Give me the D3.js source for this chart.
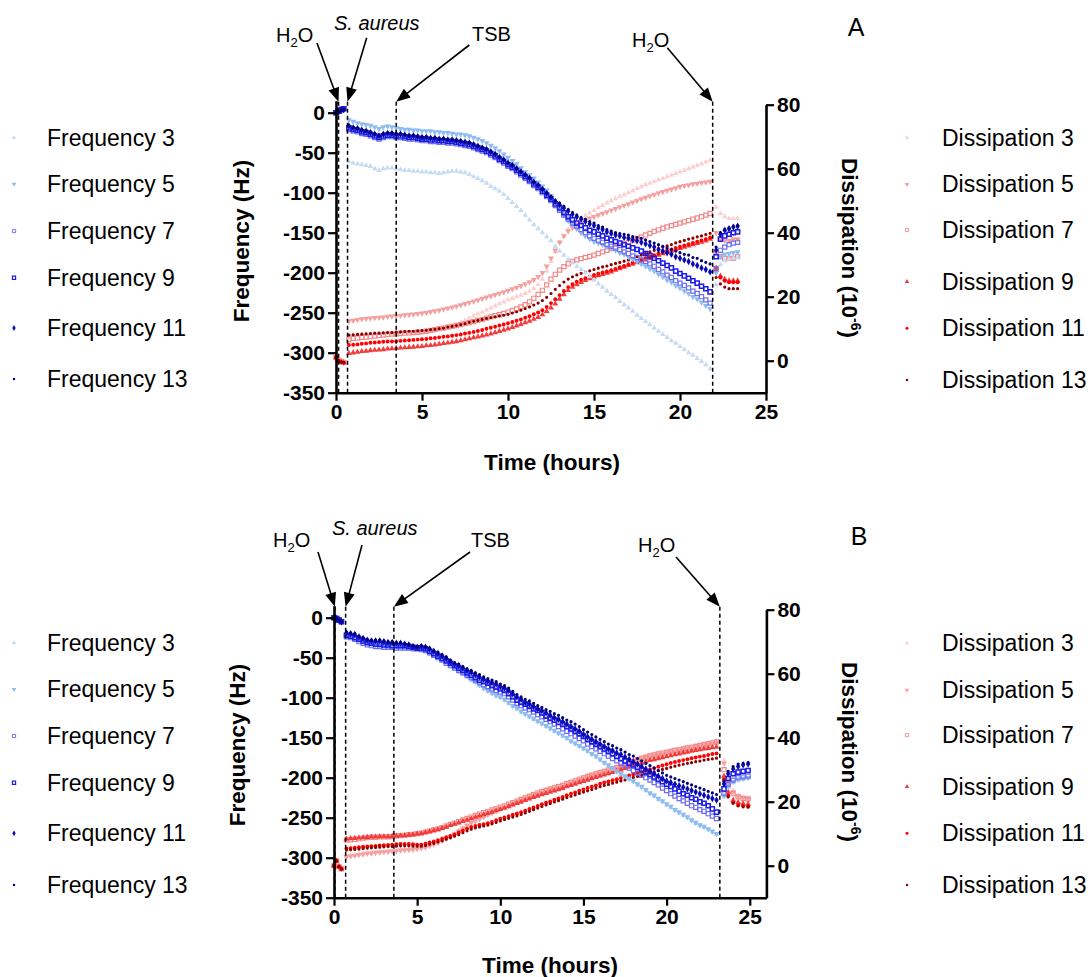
<!DOCTYPE html>
<html><head><meta charset="utf-8">
<script src="https://cdn.jsdelivr.net/npm/d3@7"></script>
<style>body{margin:0;background:#fff} svg{display:block}</style>
</head><body><svg id="chart" width="1092" height="977"></svg>
<script>
// ---------- DATA ----------
const freqTicks = [-350,-300,-250,-200,-150,-100,-50,0];
const dissTicks = [0,20,40,60,80];
const timeTicks = [0,5,10,15,20,25];
const freqNames = ["Frequency 3","Frequency 5","Frequency 7","Frequency 9","Frequency 11","Frequency 13"];
const dissNames = ["Dissipation 3","Dissipation 5","Dissipation 7","Dissipation 9","Dissipation 11","Dissipation 13"];
const eventLabels = ["H2O","S. aureus","TSB","H2O"];
const eventsA = [0.15, 0.67, 3.5, 21.9];
const eventsB = [0.05, 0.7, 3.6, 23.2];

// Panel A time (hours)
const tA_start = [0,0.15,0.3,0.45];
const tA_main = [0.75,1,1.25,1.5,1.75,2,2.25,2.5,2.75,3,3.25,3.5,3.75,4,4.25,4.5,4.75,5,5.25,5.5,5.75,6,6.25,6.5,6.75,7,7.25,7.5,7.75,8,8.25,8.5,8.75,9,9.25,9.5,9.75,10,10.25,10.5,10.75,11,11.25,11.5,11.75,12,12.25,12.5,12.75,13,13.25,13.5,13.75,14,14.25,14.5,14.75,15,15.25,15.5,15.75,16,16.25,16.5,16.75,17,17.25,17.5,17.75,18,18.25,18.5,18.75,19,19.25,19.5,19.75,20,20.25,20.5,20.75,21,21.25,21.5,21.75];
const tA_end = [22.1,22.35,22.6,22.85,23.1,23.35];

const freqA3 = [0,1,2,4,
-61,-63,-64,-65,-66,-67,-70,-72,-70,-69,
-69,-70,-71,-72,-72,-73,-73,-74,-74,-75,
-75,-76,-75,-74,-73,-73,-74,-75,-77,-80,
-82,-85,-88,-92,-95,-98,-102,-107,-112,-117,
-122,-128,-134,-140,-145,-150,-155,-160,-167,-173,
-178,-183,-187,-192,-196,-200,-205,-209,-214,-218,
-223,-227,-231,-236,-240,-244,-248,-253,-257,-261,
-265,-269,-273,-277,-281,-285,-288,-292,-296,-300,
-303,-307,-311,-315,-320,
-215,-190,-185,-183,-182,-181];
const freqA5 = [0,1,2,4,
-9,-11,-13,-14,-15,-16,-18,-20,-18,-17,
-18,-19,-20,-21,-21,-22,-22,-23,-23,-23,
-24,-24,-25,-25,-26,-27,-27,-28,-29,-31,
-33,-35,-38,-41,-44,-48,-52,-56,-60,-64,
-69,-74,-78,-82,-87,-92,-97,-104,-113,-121,
-128,-135,-140,-145,-150,-154,-158,-161,-163,-165,
-168,-170,-172,-175,-177,-180,-183,-186,-189,-192,
-195,-198,-202,-205,-209,-212,-216,-219,-223,-226,
-230,-233,-237,-241,-245,
-200,-180,-177,-176,-175,-174];
const freqA7 = [0,2,4,5,
-21,-23,-24,-26,-27,-29,-31,-33,-31,-30,
-30,-31,-31,-32,-33,-33,-34,-35,-35,-36,
-36,-37,-37,-38,-38,-39,-40,-41,-42,-44,
-46,-48,-50,-53,-56,-60,-63,-67,-70,-74,
-78,-82,-86,-91,-95,-100,-105,-110,-116,-122,
-128,-133,-138,-142,-146,-150,-154,-157,-160,-162,
-165,-167,-169,-171,-174,-176,-179,-181,-184,-186,
-189,-192,-196,-199,-203,-206,-210,-213,-216,-219,
-223,-226,-230,-234,-238,
-195,-172,-168,-165,-163,-162];
const freqA9 = [0,2,4,5,
-19,-21,-22,-24,-25,-27,-29,-31,-29,-28,
-28,-29,-29,-30,-31,-31,-32,-33,-33,-34,
-34,-35,-35,-36,-36,-37,-38,-39,-40,-42,
-44,-46,-48,-51,-54,-58,-61,-65,-68,-72,
-76,-80,-84,-89,-93,-98,-103,-108,-114,-119,
-125,-130,-134,-138,-141,-144,-147,-149,-152,-154,
-157,-159,-161,-163,-165,-167,-169,-171,-173,-176,
-179,-182,-185,-188,-191,-194,-198,-201,-204,-207,
-210,-213,-217,-220,-224,
-180,-158,-154,-152,-150,-149];
const freqA11 = [0,1,3,4,
-17,-19,-20,-22,-23,-25,-27,-29,-27,-26,
-26,-27,-27,-28,-29,-29,-30,-31,-31,-32,
-32,-33,-33,-34,-34,-35,-36,-37,-38,-40,
-42,-44,-46,-49,-52,-56,-59,-63,-66,-70,
-74,-78,-82,-87,-91,-96,-101,-106,-111,-115,
-119,-123,-127,-130,-133,-136,-139,-141,-144,-146,
-149,-151,-153,-154,-156,-157,-159,-160,-162,-164,
-166,-168,-171,-173,-175,-177,-180,-182,-184,-186,
-189,-191,-194,-196,-199,
-172,-152,-147,-145,-143,-142];
const freqA13 = [0,1,3,4,
-16,-18,-19,-21,-22,-24,-26,-28,-26,-25,
-25,-26,-26,-27,-28,-28,-29,-30,-30,-31,
-31,-32,-32,-33,-33,-34,-35,-36,-37,-39,
-41,-43,-45,-48,-51,-55,-58,-62,-65,-69,
-73,-77,-81,-86,-90,-95,-100,-105,-110,-113,
-117,-121,-125,-128,-131,-133,-136,-138,-141,-143,
-146,-148,-150,-151,-152,-153,-155,-156,-157,-159,
-161,-163,-165,-167,-169,-171,-173,-175,-177,-178,
-181,-182,-185,-187,-189,
-168,-150,-146,-144,-142,-141];

const dissA3 = [1,0,-0.4,-0.6,
8,8,8.1,8.2,8.3,8.4,8.4,8.5,8.5,8.6,
8.6,8.7,8.7,8.8,8.8,8.8,8.8,8.9,9.1,9.3,
9.5,9.8,10.1,10.5,10.9,11.3,12,12.6,13.3,14,
14.6,15.2,15.9,16.5,17.1,17.8,18.4,19,19.5,20,
20.5,21,21.7,22.5,23.8,25.5,28,31,34,37,
39,41,42.3,43.5,44.4,45.3,46.2,47,47.8,48.5,
49.3,50,50.6,51.3,51.9,52.5,53.1,53.8,54.4,55,
55.5,56,56.5,57,57.5,58,58.5,59,59.5,60,
60.5,61,61.5,62.1,62.7,
48,46,45,44.5,44.5,44.5];
const dissA5 = [1,0,-0.4,-0.6,
12.4,12.6,12.8,13,13.2,13.3,13.4,13.5,13.6,13.8,
13.9,14,14.1,14.3,14.4,14.5,14.7,14.8,15,15.3,
15.5,15.8,16.1,16.4,16.7,17,17.4,17.8,18.2,18.6,
19,19.4,19.8,20.2,20.6,21,21.5,21.9,22.4,22.9,
23.4,24,24.6,25.3,26.2,27.5,29.5,32,34.5,37,
39,40.5,41.6,42.6,43.3,43.9,44.5,45,45.5,46,
46.5,47,47.5,48,48.5,49,49.5,50,50.5,51,
51.5,51.9,52.4,52.8,53.2,53.6,54,54.4,54.7,54.9,
55.2,55.4,55.6,55.8,56,
40,38,37.5,37.5,38,38];
const dissA7 = [1,0.2,-0.3,-0.5,
6.5,7,7.1,7.3,7.4,7.5,7.7,7.9,8,8.2,
8.3,8.4,8.5,8.6,8.7,8.8,8.9,9,9.2,9.5,
9.7,10,10.2,10.5,10.7,11,11.3,11.6,11.9,12.2,
12.6,12.9,13.3,13.7,14.1,14.4,14.8,15.2,15.7,16.2,
16.8,17.5,18.4,19.5,20.7,22,23.7,25.5,27,28.3,
29.4,30.3,31,31.5,31.9,32.3,32.6,33,33.5,34,
34.5,35,35.5,36,36.5,37,37.6,38.2,38.7,39.3,
39.8,40.4,40.9,41.4,41.8,42.2,42.6,43,43.4,43.8,
44.2,44.6,45,45.5,46,
34,32.5,32,32,32,32.5];
const dissA9 = [1,0,-0.4,-0.6,
2.3,2.5,2.7,2.9,3,3.2,3.3,3.4,3.5,3.7,
3.8,3.9,4,4.1,4.2,4.3,4.4,4.5,4.7,4.8,
5,5.2,5.4,5.6,5.8,6,6.3,6.6,6.9,7.2,
7.5,7.8,8.1,8.4,8.8,9.2,9.6,10,10.4,10.9,
11.4,11.9,12.4,13,13.6,14.4,15.4,16.5,17.8,19.3,
20.7,22,23,23.8,24.5,25.1,25.7,26.2,26.6,27,
27.4,27.8,28.3,28.8,29.3,29.8,30.2,30.7,31.1,31.5,
32,32.5,33,33.5,33.9,34.3,34.7,35.1,35.5,35.9,
36.3,36.7,37.1,37.5,38,
29,26.5,25.5,25,25,25];
const dissA11 = [1,0,-0.4,-0.6,
4.9,5,5.1,5.3,5.4,5.6,5.7,5.8,5.9,6,
6,6.1,6.2,6.3,6.4,6.5,6.6,6.7,6.8,7,
7.1,7.3,7.5,7.6,7.8,8,8.2,8.5,8.7,9,
9.3,9.6,10,10.3,10.6,11,11.3,11.7,12.1,12.5,
12.9,13.4,13.9,14.5,15.1,15.8,16.8,18,19.2,20.5,
21.8,23,23.9,24.7,25.3,25.8,26.3,26.8,27.2,27.6,
27.9,28.3,28.7,29.2,29.6,30.1,30.6,31,31.5,32,
32.5,33,33.5,34,34.4,34.8,35.2,35.6,36,36.4,
36.8,37.2,37.6,38,38.5,
28,26,25,24.5,24.5,24.5];
const dissA13 = [1,0,-0.4,-0.6,
8,8.1,8.2,8.3,8.4,8.5,8.6,8.6,8.7,8.8,
8.8,8.9,9,9.1,9.2,9.2,9.3,9.4,9.5,9.7,
9.8,10,10.2,10.5,10.7,11,11.3,11.6,12,12.3,
12.6,12.9,13.2,13.5,13.7,14,14.2,14.5,14.9,15.3,
15.8,16.3,16.8,17.4,18,18.8,19.8,21,22.3,23.5,
24.6,25.5,26.2,26.8,27.3,27.7,28.1,28.5,28.9,29.3,
29.6,30,30.4,30.7,31.1,31.5,32,32.5,33,33.5,
34,34.5,35,35.5,35.9,36.3,36.8,37.2,37.6,38,
38.3,38.7,39,39.4,39.8,
26,24,23,22.5,22.5,22.5];

// Panel B time (hours)
const tB_start = [0,0.15,0.3,0.45];
const tB_main = [0.75,1,1.25,1.5,1.75,2,2.25,2.5,2.75,3,3.25,3.5,3.75,4,4.25,4.5,4.75,5,5.25,5.5,5.75,6,6.25,6.5,6.75,7,7.25,7.5,7.75,8,8.25,8.5,8.75,9,9.25,9.5,9.75,10,10.25,10.5,10.75,11,11.25,11.5,11.75,12,12.25,12.5,12.75,13,13.25,13.5,13.75,14,14.25,14.5,14.75,15,15.25,15.5,15.75,16,16.25,16.5,16.75,17,17.25,17.5,17.75,18,18.25,18.5,18.75,19,19.25,19.5,19.75,20,20.25,20.5,20.75,21,21.25,21.5,21.75,22,22.25,22.5,22.75,23];
const tB_end = [23.45,23.7,24,24.3,24.6,24.9];

const freqB3 = [0,-1,-3,-5,
-22,-24,-26,-28,-30,-32,-33,-34,-35,-35,
-36,-36,-37,-37,-37,-38,-38,-39,-40,-41,
-44,-47,-50,-53,-56,-60,-63,-67,-70,-74,
-78,-81,-85,-89,-92,-95,-98,-100,-103,-107,
-111,-114,-118,-121,-124,-127,-130,-133,-136,-139,
-142,-145,-148,-151,-155,-158,-161,-164,-167,-171,
-174,-178,-182,-185,-189,-193,-196,-199,-202,-205,
-209,-212,-216,-220,-223,-227,-230,-234,-237,-241,
-244,-247,-250,-254,-257,-260,-262,-265,-268,-271,
-224,-212,-206,-203,-202,-201];
const freqB5 = [0,-1,-3,-5,
-22,-24,-26,-28,-30,-32,-33,-34,-35,-35,
-36,-36,-36,-37,-37,-37,-38,-38,-39,-40,
-43,-46,-49,-52,-55,-59,-62,-66,-69,-73,
-77,-80,-84,-88,-91,-94,-97,-99,-102,-106,
-110,-113,-117,-120,-123,-126,-129,-132,-135,-138,
-141,-144,-147,-150,-154,-157,-160,-163,-166,-170,
-173,-177,-181,-184,-188,-192,-195,-198,-201,-204,
-208,-211,-215,-219,-222,-226,-229,-233,-236,-240,
-243,-246,-249,-253,-256,-259,-261,-264,-267,-270,
-222,-210,-205,-202,-201,-200];
const freqB7 = [0,-1,-3,-5,
-24,-25,-27,-30,-32,-34,-35,-36,-36,-37,
-37,-37,-38,-38,-38,-38,-39,-39,-40,-41,
-44,-47,-50,-53,-57,-60,-63,-66,-69,-72,
-75,-78,-81,-84,-86,-89,-91,-93,-95,-99,
-103,-107,-110,-113,-115,-118,-121,-124,-127,-130,
-133,-136,-139,-142,-145,-148,-151,-154,-158,-161,
-164,-167,-170,-173,-176,-179,-182,-185,-188,-191,
-194,-197,-200,-203,-206,-209,-213,-216,-220,-223,
-226,-229,-232,-235,-237,-240,-242,-245,-248,-251,
-220,-208,-203,-200,-199,-198];
const freqB9 = [0,-1,-3,-5,
-22,-23,-25,-27,-29,-31,-32,-33,-33,-34,
-34,-35,-35,-35,-35,-36,-37,-38,-38,-39,
-42,-45,-48,-51,-54,-57,-60,-63,-66,-69,
-72,-75,-78,-80,-82,-85,-87,-89,-91,-95,
-99,-103,-106,-108,-111,-114,-116,-119,-123,-126,
-128,-131,-133,-136,-139,-142,-145,-148,-152,-155,
-158,-161,-164,-167,-170,-173,-176,-179,-182,-184,
-187,-190,-193,-196,-199,-202,-205,-208,-211,-214,
-217,-220,-222,-225,-227,-230,-232,-235,-239,-243,
-214,-201,-195,-193,-192,-191];
const freqB11 = [0,-1,-3,-5,
-19,-20,-21,-24,-26,-28,-29,-29,-29,-30,
-31,-31,-32,-32,-33,-34,-36,-37,-36,-37,
-39,-42,-45,-48,-51,-55,-58,-60,-63,-66,
-68,-71,-74,-77,-79,-81,-83,-86,-88,-91,
-95,-99,-102,-106,-108,-111,-114,-116,-119,-122,
-125,-127,-130,-133,-136,-139,-142,-146,-149,-152,
-155,-158,-161,-164,-166,-169,-171,-174,-177,-180,
-183,-186,-189,-192,-195,-198,-201,-204,-206,-208,
-210,-212,-214,-216,-218,-220,-222,-224,-226,-228,
-208,-195,-189,-186,-184,-183];
const freqB13 = [0,-1,-3,-5,
-18,-19,-20,-23,-25,-27,-28,-28,-28,-29,
-30,-30,-31,-31,-32,-33,-35,-36,-35,-36,
-38,-41,-43,-46,-49,-53,-56,-58,-61,-64,
-66,-69,-71,-74,-76,-78,-80,-83,-85,-88,
-92,-96,-99,-102,-104,-107,-110,-112,-115,-117,
-120,-122,-125,-128,-130,-133,-136,-140,-143,-146,
-149,-152,-155,-158,-160,-163,-165,-168,-171,-173,
-176,-179,-182,-185,-188,-191,-194,-197,-199,-201,
-203,-205,-207,-209,-211,-213,-215,-217,-219,-221,
-205,-192,-186,-183,-182,-181];

const dissB3 = [0,1.5,-0.3,-1,
3,3.2,3.4,3.6,3.8,4,4.1,4.3,4.4,4.5,
4.6,4.7,4.8,5,5.1,5.2,5.3,5.5,5.7,6,
6.4,6.9,7.4,8,8.6,9.3,10.1,11,11.9,12.8,
13.6,14.2,14.8,15.4,16.1,16.7,17.3,17.9,18.5,19,
19.8,20.4,20.9,21.4,21.9,22.5,23,23.4,23.8,24.2,
24.6,25,25.4,25.9,26.3,26.8,27.3,27.7,28.2,28.6,
29,29.4,29.8,30.2,30.6,30.9,31.3,31.8,32.3,32.9,
33.4,33.8,34.2,34.6,34.9,35.2,35.5,35.7,36,36.3,
36.5,36.8,37.1,37.3,37.6,37.8,38.1,38.4,38.7,39,
33,27,23.5,22,21.5,21.3];
const dissB5 = [0,1.5,-0.3,-1,
2.8,3,3.2,3.4,3.6,3.8,3.9,4.1,4.2,4.3,
4.4,4.5,4.6,4.8,4.9,5,5.1,5.3,5.5,5.8,
6.2,6.7,7.2,7.8,8.4,9.1,9.9,10.8,11.7,12.6,
13.4,14,14.6,15.2,15.9,16.5,17.1,17.7,18.3,18.8,
19.3,19.9,20.4,20.9,21.4,22,22.5,22.9,23.3,23.7,
24.1,24.5,24.9,25.4,25.8,26.3,26.8,27.2,27.7,28.1,
28.5,28.9,29.3,29.7,30.1,30.4,30.8,31.3,31.8,32.4,
32.9,33.3,33.7,34.1,34.4,34.7,35,35.2,35.5,35.8,
36,36.3,36.6,36.8,37.1,37.3,37.6,37.8,38.1,38.4,
32,26,23,21.8,21.2,21];
const dissB7 = [0,1.5,-0.3,-1,
8,8.1,8.2,8.4,8.6,8.8,8.9,8.9,9,9,
9,9.1,9.3,9.4,9.5,9.7,9.8,10,10.2,10.5,
10.8,11.2,11.5,11.9,12.4,12.9,13.3,13.8,14.3,14.8,
15.2,15.7,16.1,16.6,17,17.4,17.8,18.3,18.7,19.2,
19.7,20.2,20.7,21.2,21.7,22.2,22.7,23.1,23.5,23.9,
24.3,24.7,25.1,25.6,26,26.5,27,27.4,27.9,28.3,
28.7,29.1,29.5,29.9,30.3,30.6,31,31.5,32,32.6,
33.1,33.5,33.9,34.3,34.6,34.9,35.2,35.4,35.7,36,
36.2,36.5,36.8,37,37.3,37.5,37.8,38.1,38.4,38.7,
30,25,22.5,21.5,21,20.8];
const dissB9 = [0,1.5,-0.3,-1,
8.4,8.5,8.6,8.7,8.8,8.9,9,9,9.1,9.1,
9.1,9.2,9.3,9.4,9.5,9.6,9.7,9.9,10.1,10.4,
10.7,11,11.3,11.7,12.1,12.6,13,13.4,13.9,14.3,
14.7,15.2,15.6,16,16.4,16.8,17.2,17.6,18,18.5,
19,19.5,19.9,20.4,20.9,21.4,21.8,22.2,22.6,23,
23.4,23.8,24.2,24.7,25.1,25.5,26,26.4,26.8,27.2,
27.6,28,28.4,28.8,29.2,29.6,30,30.4,30.8,31.3,
31.7,32.1,32.5,32.9,33.2,33.5,33.8,34.1,34.4,34.7,
35,35.3,35.5,35.8,36.1,36.3,36.5,36.7,36.9,37.1,
28,23,20.5,19.8,19.4,19.2];
const dissB11 = [0,1.5,-0.3,-1,
5.4,5.5,5.6,5.8,5.9,6,6.1,6.2,6.3,6.4,
6.5,6.6,6.7,6.8,6.8,6.8,6.7,6.6,6.6,6.9,
7.3,7.6,8,8.4,8.9,9.3,9.8,10.4,11,11.6,
12.1,12.4,12.7,13,13.3,13.7,14.2,14.7,15.1,15.5,
15.9,16.3,16.7,17.2,17.7,18.2,18.7,19.2,19.7,20.1,
20.6,21,21.5,22,22.5,22.9,23.4,23.8,24.3,24.7,
25.1,25.6,26,26.3,26.7,27,27.4,27.8,28.2,28.6,
29,29.3,29.7,30.1,30.5,30.9,31.3,31.7,32.1,32.4,
32.7,33,33.3,33.6,33.8,34.1,34.3,34.6,34.9,35.1,
27,22,19.8,19,18.7,18.6];
const dissB13 = [0,1.5,-0.3,-1,
4.9,5,5.1,5.2,5.4,5.5,5.6,5.7,5.8,5.9,
6,6,6.1,6.2,6.2,6.2,6.1,6.1,6.1,6.3,
6.7,7,7.4,7.8,8.3,8.7,9.2,9.7,10.3,10.9,
11.4,11.8,12.1,12.4,12.7,13.1,13.5,14,14.4,14.8,
15.2,15.6,16,16.5,17,17.5,18,18.5,19,19.4,
19.9,20.3,20.8,21.3,21.7,22.1,22.6,23,23.4,23.8,
24.2,24.7,25.1,25.4,25.8,26.1,26.5,26.8,27.2,27.6,
27.9,28.2,28.6,29,29.3,29.7,30.1,30.4,30.8,31.1,
31.4,31.7,32,32.2,32.5,32.7,33,33.2,33.4,33.6,
26.5,21.5,19.5,18.7,18.4,18.3];

// ---------- STYLES ----------
const FONT = '"Liberation Sans", Arial, Helvetica, sans-serif';
const freqStyles = [
  {shape:'tri',  color:'#c4dbf5', size:13, open:false},
  {shape:'itri', color:'#8cbcf2', size:16, open:false},
  {shape:'sq',   color:'#6e6ef0', size:17, open:true, sw:1.2},
  {shape:'sq',   color:'#1c1ce8', size:17, open:true, sw:1.5},
  {shape:'dia',  color:'#0a0ab4', size:16, open:false},
  {shape:'circ', color:'#00007a', size:8,  open:false}
];
const dissStyles = [
  {shape:'tri',  color:'#fcd0d0', size:13, open:false},
  {shape:'itri', color:'#f5a0a0', size:16, open:false},
  {shape:'sq',   color:'#f28a8a', size:17, open:true, sw:1.2},
  {shape:'tri',  color:'#f23c3c', size:15, open:false},
  {shape:'circ', color:'#ff0000', size:12, open:false},
  {shape:'circ', color:'#8c0000', size:8,  open:false}
];
const symTypes = {tri:d3.symbolTriangle, itri:d3.symbolTriangle, sq:d3.symbolSquare, dia:d3.symbolDiamond, circ:d3.symbolCircle};

const svg = d3.select('#chart');

function marker(g, st, x, y, scale) {
  const s = scale || 1;
  const p = g.append('path')
    .attr('d', d3.symbol().type(symTypes[st.shape]).size(st.size * s)())
    .attr('transform', `translate(${x},${y})` + (st.shape==='itri' ? ' rotate(180)' : ''));
  if (st.open) p.attr('fill','none').attr('stroke', st.color).attr('stroke-width', st.sw * Math.sqrt(s));
  else p.attr('fill', st.color);
}

function arrow(g, x1, y1, x2, y2) {
  const dx = x2-x1, dy = y2-y1, L = Math.hypot(dx,dy), ux = dx/L, uy = dy/L;
  const hl = 14, hw = 5.5;
  const bx = x2-ux*hl, by = y2-uy*hl;
  g.append('line').attr('x1',x1).attr('y1',y1).attr('x2',bx+ux*2).attr('y2',by+uy*2)
    .attr('stroke','#000').attr('stroke-width',1.6);
  g.append('path').attr('d',`M${x2},${y2}L${bx-uy*hw},${by+ux*hw}L${bx+uy*hw},${by-ux*hw}Z`).attr('fill','#000');
}

function h2o(g, x, y) {
  const t = g.append('text').attr('x',x).attr('y',y).attr('font-size',20).attr('font-family',FONT);
  t.append('tspan').text('H');
  t.append('tspan').attr('font-size',13).attr('dy',5).text('2');
  t.append('tspan').attr('dy',-5).text('O');
}

function panel(cfg) {
  const g = svg.append('g');
  const x = d3.scaleLinear().domain(cfg.xDomain).range(cfg.xRange);
  const yL = d3.scaleLinear().domain([-350, 15]).range([cfg.yBottom, cfg.yBottom - 365*0.8]);
  const yR = d3.scaleLinear().domain([-10, 80]).range([cfg.yBottom, cfg.yBottom - 90*3.2]);

  const dg = g.append('g');
  cfg.diss.forEach((vals, k) => {
    vals.forEach((v, i) => { if (i < cfg.time.length) marker(dg, dissStyles[k], x(cfg.time[i]), yR(v)); });
  });
  cfg.freq.forEach((vals, k) => {
    vals.forEach((v, i) => { if (i < cfg.time.length) marker(dg, freqStyles[k], x(cfg.time[i]), yL(v)); });
  });

  // event dashed lines + arrows
  cfg.events.forEach((t, k) => {
    const xe = x(t);
    g.append('line').attr('x1',xe).attr('x2',xe).attr('y1',cfg.eventTop).attr('y2',cfg.yBottom)
      .attr('stroke','#000').attr('stroke-width',1.5).attr('stroke-dasharray','4,3');
    arrow(g, cfg.arrowTails[k][0], cfg.arrowTails[k][1], xe, cfg.eventTop);
  });
  // annotation labels
  h2o(g, cfg.labelPos[0][0], cfg.labelPos[0][1]);
  g.append('text').attr('x',cfg.labelPos[1][0]).attr('y',cfg.labelPos[1][1]).attr('font-size',20)
    .attr('font-style','italic').attr('font-family',FONT).text(eventLabels[1]);
  g.append('text').attr('x',cfg.labelPos[2][0]).attr('y',cfg.labelPos[2][1]).attr('font-size',20)
    .attr('font-family',FONT).text(eventLabels[2]);
  h2o(g, cfg.labelPos[3][0], cfg.labelPos[3][1]);
  g.append('text').attr('x',cfg.letterPos[0]).attr('y',cfg.letterPos[1]).attr('font-size',25)
    .attr('font-family',FONT).attr('text-anchor','middle').text(cfg.letter);

  // axes
  const styleAxis = a => {
    a.attr('font-family', FONT).attr('font-size', 21).attr('font-weight','bold');
    a.select('.domain').attr('stroke-width', 2.6);
    a.selectAll('.tick line').attr('stroke-width', 2.2);
    a.selectAll('.tick text').attr('fill','#000');
  };
  const fmt = d => String(d);
  g.append('g').attr('transform',`translate(0,${cfg.yBottom})`)
    .call(d3.axisBottom(x).tickValues(timeTicks).tickFormat(fmt).tickSize(8).tickSizeOuter(0).tickPadding(3))
    .call(styleAxis);
  g.append('g').attr('transform',`translate(${cfg.xRange[0]},0)`)
    .call(d3.axisLeft(yL).tickValues(freqTicks).tickFormat(fmt).tickSize(8).tickSizeOuter(0).tickPadding(3))
    .call(styleAxis);
  g.append('g').attr('transform',`translate(${cfg.xRange[1]},0)`)
    .call(d3.axisRight(yR).tickValues(dissTicks).tickFormat(fmt).tickSize(8).tickSizeOuter(0).tickPadding(3))
    .call(styleAxis);

  // axis titles
  g.append('text').attr('transform',`translate(${cfg.freqTitle[0]},${cfg.freqTitle[1]}) rotate(-90)`)
    .attr('text-anchor','middle').attr('dy','0.35em').attr('font-size',22.5).attr('font-weight','bold')
    .attr('font-family',FONT).text('Frequency (Hz)');
  const dt = g.append('text').attr('transform',`translate(${cfg.dissTitle[0]},${cfg.dissTitle[1]}) rotate(90)`)
    .attr('text-anchor','middle').attr('y',8).attr('font-size',22.5).attr('font-weight','bold').attr('font-family',FONT);
  dt.append('tspan').text('Dissipation (10');
  dt.append('tspan').attr('font-size',14).attr('dy',-9).text('-6');
  dt.append('tspan').attr('dy',9).text(')');
  g.append('text').attr('x',cfg.timeTitle[0]).attr('y',cfg.timeTitle[1]).attr('text-anchor','middle')
    .attr('font-size',22.5).attr('font-weight','bold').attr('font-family',FONT).text('Time (hours)');

  // legends
  freqNames.forEach((n, k) => {
    const yy = cfg.legL[k];
    marker(g, freqStyles[k], 14, yy, 0.6);
    g.append('text').attr('x',47).attr('y',yy+8).attr('font-size',23).attr('font-family',FONT).text(n);
  });
  dissNames.forEach((n, k) => {
    const yy = cfg.legR[k];
    marker(g, dissStyles[k], 907, yy, 0.6);
    g.append('text').attr('x',942).attr('y',yy+8).attr('font-size',23).attr('font-family',FONT).text(n);
  });
}

panel({
  xDomain:[0,25], xRange:[336,766], yBottom:392.7, eventTop:101.7,
  time: tA_start.concat(tA_main, tA_end),
  freq:[freqA3,freqA5,freqA7,freqA9,freqA11,freqA13],
  diss:[dissA3,dissA5,dissA7,dissA9,dissA11,dissA13],
  events: eventsA,
  arrowTails:[[317,43],[366.7,37.7],[469.3,45],[667.3,47.7]],
  labelPos:[[276,42],[334,30],[472,41],[632,47]],
  letter:'A', letterPos:[856,36],
  freqTitle:[241,241], dissTitle:[850,248], timeTitle:[552,470],
  legL:[137.7,184,231,277.7,328,379], legR:[137.7,184.3,230,281.7,328.3,380]
});
panel({
  xDomain:[0,26], xRange:[334,766.4], yBottom:897.7, eventTop:606.7,
  time: tB_start.concat(tB_main, tB_end),
  freq:[freqB3,freqB5,freqB7,freqB9,freqB11,freqB13],
  diss:[dissB3,dissB5,dissB7,dissB9,dissB11,dissB13],
  events: eventsB,
  arrowTails:[[318,552],[362,545],[470,552],[676,557]],
  labelPos:[[273,547],[332,535],[471,547],[638,552]],
  letter:'B', letterPos:[859,545],
  freqTitle:[237,745], dissTitle:[850,752], timeTitle:[550,973],
  legL:[642.7,689.3,736,782.7,833.3,885], legR:[643.3,690,735,786.7,833.3,885]
});
</script></body></html>
